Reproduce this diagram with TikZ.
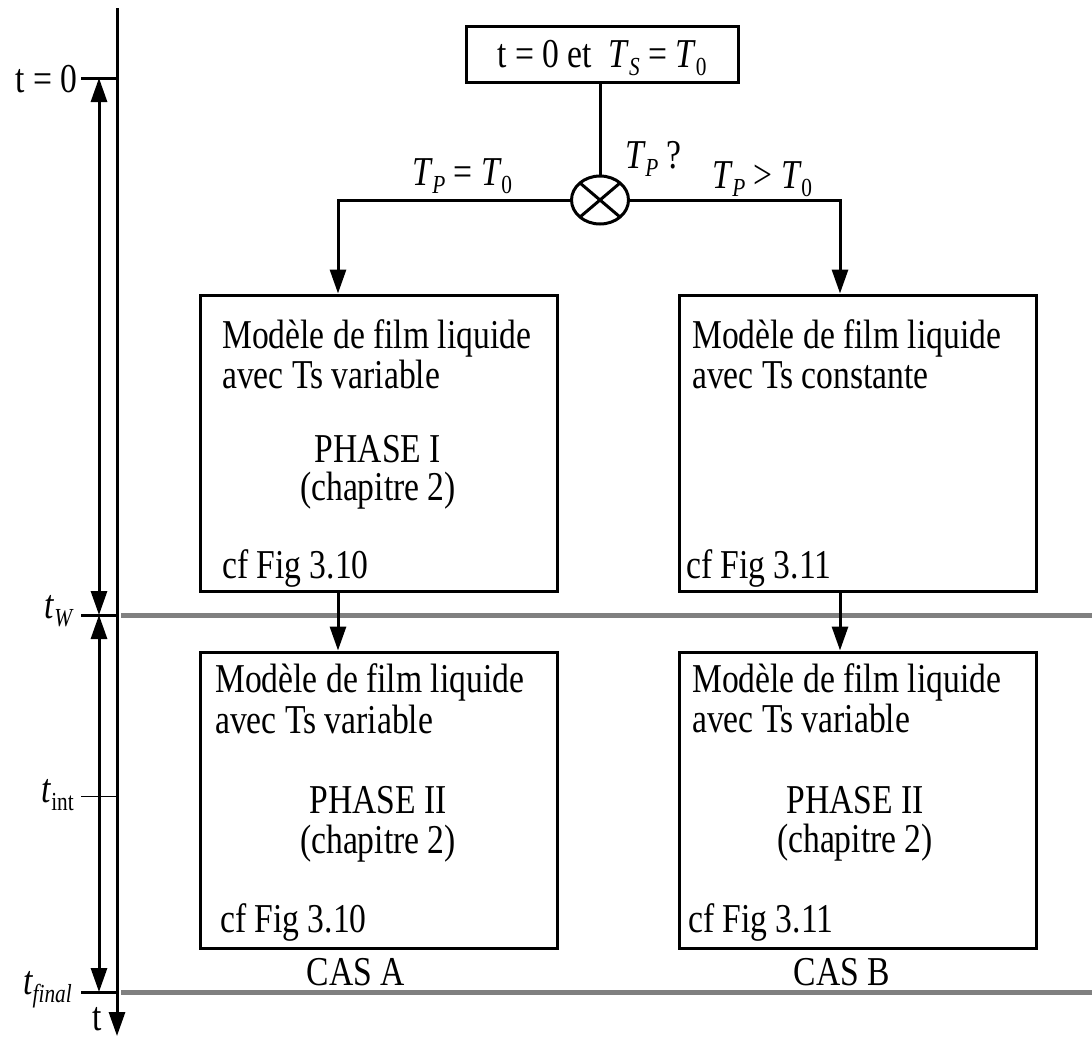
\documentclass[tikz,border=0pt]{standalone}
\usepackage{fontspec}
\setmainfont[FakeStretch=0.82]{Liberation Serif}
\usetikzlibrary{arrows.meta,shapes.geometric}
\newcommand\Tsub[2]{\textit{#1}\kern-0.5pt\raisebox{-8pt}{\fontsize{26}{26}\selectfont #2}}
\begin{document}
\begin{tikzpicture}[x=1pt,y=-1pt,
  every node/.style={font=\fontsize{41}{46}\selectfont, inner sep=0pt},
  blk/.style={line width=3pt, draw=black},
  thin tick/.style={line width=1pt, draw=black},
  greyline/.style={line width=5pt, draw=black!50},
  tri/.style={-{Triangle[length=24pt,width=16pt]}},
  dbl/.style={{Triangle[length=24pt,width=16pt]}-{Triangle[length=24pt,width=16pt]}},
  boxnode/.style={draw=black, line width=3pt, rectangle, minimum width=357pt, minimum height=296pt, inner sep=0pt},
  lbl/.style={anchor=base west},
  ctr/.style={anchor=base},
  lft/.style={anchor=base east}]
\useasboundingbox (0,0) rectangle (1092,1037);

% time axis
\coordinate (axtop) at (117,8);
\coordinate (axbot) at (117,1036);
\draw[blk, tri] (axtop) -- (axbot);
\node[lft] (tlab) at (102,1030) {t};

\coordinate (t0a) at (81,78);   \coordinate (t0b) at (117,78);
\coordinate (twa) at (81,615);  \coordinate (twb) at (117,615);
\coordinate (tia) at (81,796);  \coordinate (tib) at (117,796);
\coordinate (tfa) at (81,992);  \coordinate (tfb) at (117,992);
\draw[blk] (t0a) -- (t0b);
\draw[blk] (twa) -- (twb);
\draw[thin tick] (tia) -- (tib);
\draw[blk] (tfa) -- (tfb);

\node[lft] (l0) at (78,92) {t = 0};
\node[lft] (lw) at (74,618) {\Tsub{\textit{t}}{\textit{W}}};
\node[lft] (li) at (74,802) {\Tsub{\textit{t}}{int}};
\node[lft] (lf) at (72,994) {\Tsub{\textit{t}}{\textit{final}}};

\coordinate (d0) at (99,78);
\coordinate (dw) at (99,615);
\coordinate (df) at (99,992);
\draw[blk, dbl] (d0) -- (dw);
\draw[blk, dbl] (dw) -- (df);

% grey separators
\coordinate (gw1) at (121,615); \coordinate (gw2) at (1092,615);
\coordinate (gf1) at (121,992); \coordinate (gf2) at (1092,992);
\draw[greyline] (gw1) -- (gw2);
\draw[greyline] (gf1) -- (gf2);

% top box and decision
\node[draw=black, line width=3pt, rectangle, minimum width=272pt, minimum height=56pt] (start) at (602,54) {};
\node[ctr] (starttxt) at (602,67) {t = 0 et \ \Tsub{\textit{T}}{\textit{S}} = \Tsub{\textit{T}}{0}};
\node[draw=black, line width=3pt, ellipse, minimum width=57pt, minimum height=48pt] (dec) at (600,200) {};
\draw[blk] (dec.center) ++(-20,-17) coordinate (c1) -- ++(40,34) coordinate (c2);
\draw[blk] (dec.center) ++(20,-17) coordinate (c3) -- ++(-40,34) coordinate (c4);
\draw[blk] (start.south -| dec.north) -- (dec.north);
\node[lbl] (tpq) at (625,168) {\Tsub{\textit{T}}{\textit{P}} ?};
\node[ctr] (tpeq) at (462,185) {\Tsub{\textit{T}}{\textit{P}} = \Tsub{\textit{T}}{0}};
\node[ctr] (tpgt) at (762,188) {\Tsub{\textit{T}}{\textit{P}} > \Tsub{\textit{T}}{0}};

% boxes
\node[boxnode] (b1) at (379,443) {};
\node[boxnode] (b2) at (857.5,443) {};
\node[boxnode] (b3) at (379,800) {};
\node[boxnode] (b4) at (857.5,800) {};

\coordinate (bl) at (338,200);
\coordinate (br) at (840,200);
\draw[blk, tri] (dec.west) -- (bl) -- (bl |- b1.north);
\draw[blk, tri] (dec.east) -- (br) -- (br |- b2.north);
\draw[blk, tri] (bl |- b1.south) -- (bl |- b3.north);
\draw[blk, tri] (br |- b2.south) -- (br |- b4.north);

% box 1 text
\node[lbl] (b1a) at (222,348) {Modèle de film liquide};
\node[lbl] (b1b) at (222,388) {avec Ts variable};
\node[ctr] (b1c) at (378,462) {PHASE I};
\node[ctr] (b1d) at (378,500) {(chapitre 2)};
\node[lbl] (b1e) at (222,578) {cf Fig 3.10};

% box 2 text
\node[lbl] (b2a) at (692,348) {Modèle de film liquide};
\node[lbl] (b2b) at (692,388) {avec Ts constante};
\node[lbl] (b2e) at (686,578) {cf Fig 3.11};

% box 3 text
\node[lbl] (b3a) at (215,692) {Modèle de film liquide};
\node[lbl] (b3b) at (215,733) {avec Ts variable};
\node[ctr] (b3c) at (378,813) {PHASE II};
\node[ctr] (b3d) at (378,853) {(chapitre 2)};
\node[lbl] (b3e) at (220,932) {cf Fig 3.10};

% box 4 text
\node[lbl] (b4a) at (692,692) {Modèle de film liquide};
\node[lbl] (b4b) at (692,732) {avec Ts variable};
\node[ctr] (b4c) at (855,813) {PHASE II};
\node[ctr] (b4d) at (855,852) {(chapitre 2)};
\node[lbl] (b4e) at (688,932) {cf Fig 3.11};

\node[ctr] (casa) at (356,985) {CAS A};
\node[ctr] (casb) at (842,985) {CAS B};
\end{tikzpicture}
\end{document}
